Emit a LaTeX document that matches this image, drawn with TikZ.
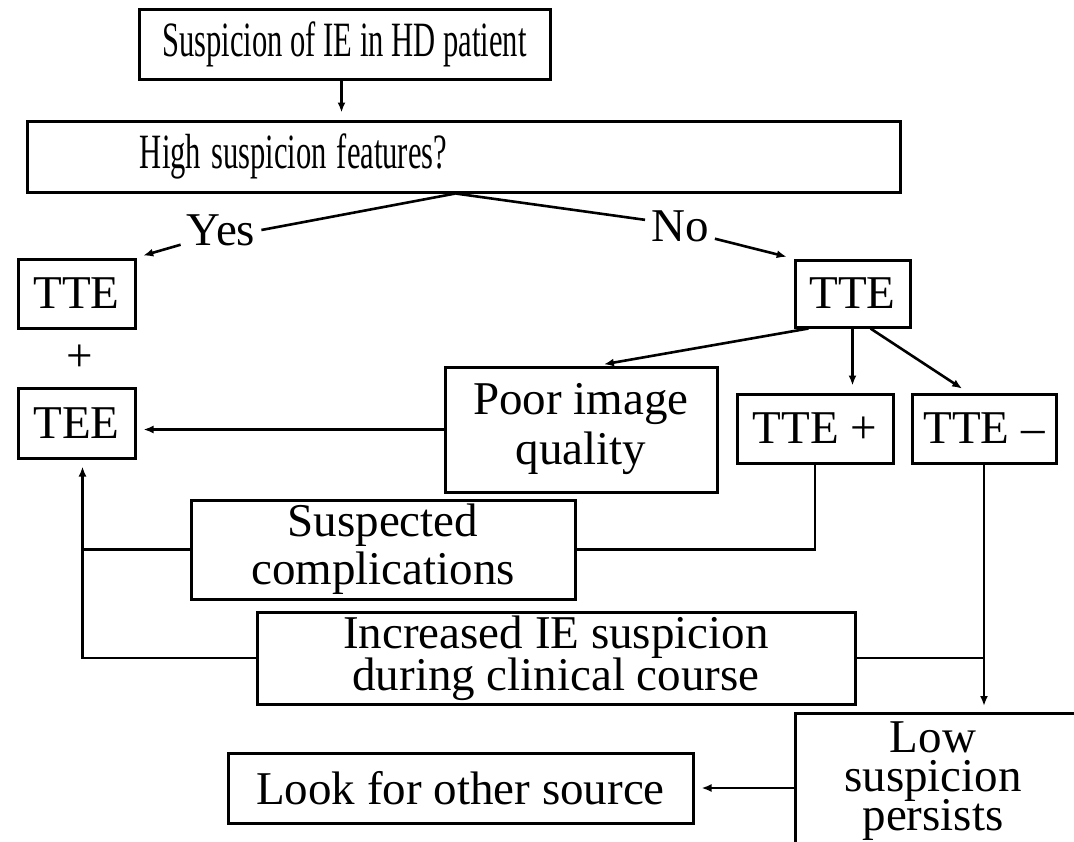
\documentclass[tikz,border=0pt]{standalone}
\usepackage{fontspec}
\setmainfont{Liberation Serif}
\usepackage{graphicx}
\usetikzlibrary{arrows.meta,positioning,calc}
\newcommand\chartfont[1]{\fontsize{47}{#1}\selectfont\lineskiplimit=-60pt\relax}
\tikzset{
    big/.style={font=\chartfont{50}},
    box/.style={draw, line width=3pt, inner sep=0pt, align=center, big},
    boxline/.style={line width=3pt},
    lbl/.style={inner sep=6pt, big},
    arrow/.style={-{Latex[length=10pt,width=8pt]}, line width=2.6pt, shorten >=7pt},
    link/.style={line width=2.6pt}
}

\begin{document}
\begin{tikzpicture}[x=1pt,y=-1pt]
    \path[use as bounding box,clip] (0,0) rectangle (1074,841);
    % Question boxes at the top
    \node[box,minimum width=411pt,minimum height=70pt] (start) at (344.5,44) {\scalebox{0.65}[1.05]{Suspicion of IE in HD patient}};
    \node[box,minimum width=873pt,minimum height=71pt,text width=873pt,align=left] (high) at (463.5,156.5) {\hspace*{113pt}\scalebox{0.65}[1.05]{High suspicion features?}};
    \coordinate (fork) at ([xshift=-8pt]high.south);
    \node[lbl] (yes) at (221,230) {Yes};
    \node[lbl] (no) at (680,226) {No};
    % Left branch
    \node[box,minimum width=117pt,minimum height=69pt] (tteL) at (76.5,293.5) {TTE};
    \node[big] (plus) at (80,358) {+};
    \node[box,minimum width=117pt,minimum height=70pt] (tee) at (76.5,423) {TEE};
    \coordinate (back) at ([xshift=6pt]tee.south);
    % Right branch
    \node[box,minimum width=115pt,minimum height=67pt] (tteR) at (852.5,293.5) {TTE};
    \node[box,minimum width=272pt,minimum height=125pt] (poor) at (581,429.5) {Poor image\\quality};
    \node[box,minimum width=156pt,minimum height=69pt] (ttepos) at (815,428.5) {TTE +};
    \node[box,minimum width=144pt,minimum height=69pt] (tteneg) [right=16pt of ttepos] {TTE –};
    \node[box,minimum width=384pt,minimum height=99pt,font=\chartfont{48}] (compl) at (383,549.5) {Suspected\\complications};
    \node[box,minimum width=598pt,minimum height=92pt,font=\chartfont{42}] (incr) at (556,658) {Increased IE suspicion\\during clinical course};
    \node[box,minimum width=465pt,minimum height=70pt] (look) at (460.5,788) {Look for other source};
    \node[box,draw=none,anchor=north,inner ysep=7pt,minimum width=272pt,font=\chartfont{39}] (low) at (933,713) {Low\\suspicion\\persists};
    \draw[boxline] ([xshift=300pt]low.north west) -- (low.north west) -- ([yshift=-60pt]low.south west);
    % Connectors
    \draw[arrow] ([xshift=-3pt]start.south) -- ([xshift=-3pt]start.south |- high.north);
    \draw[link] (fork) -- (yes.east);
    \draw[arrow] (yes.200) -- (tteL.north east);
    \draw[link] (fork) -- (no.170);
    \draw[arrow] (no.-20) -- (tteR.north west);
    \draw[arrow] ([xshift=15pt]tteR.south west) -- ([xshift=16pt]poor.north);
    \draw[arrow] (tteR.south) -- (tteR.south |- ttepos.north);
    \draw[arrow] ([xshift=18pt]tteR.south) -- ([xshift=-16pt]tteneg.north);
    \draw[arrow] (poor.west) -- (poor.west -| tee.east);
    \draw[link] (ttepos.south) |- (compl.east);
    \draw[link] (compl.west) -- (compl.west -| back);
    \draw[arrow] (incr.west) -| (back);
    \draw[link] (incr.east) -- (incr.east -| tteneg.south);
    \draw[arrow] (tteneg.south) -- (tteneg.south |- low.north);
    \draw[arrow] (look.east -| low.west) -- (look.east);
\end{tikzpicture}
\end{document}
